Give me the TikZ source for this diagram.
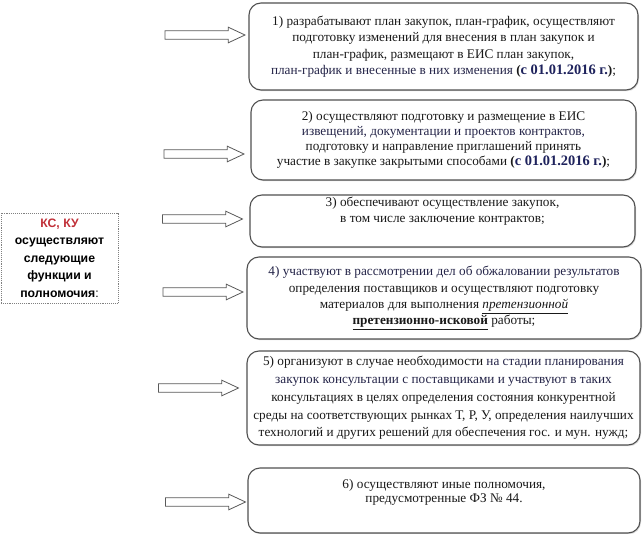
\documentclass[tikz,border=0pt]{standalone}
\usepackage{fontspec}
\setmainfont{Liberation Serif}
\setsansfont{Liberation Sans}
\usetikzlibrary{shapes.arrows,positioning,shadows}

\definecolor{ksred}{RGB}{192,48,56}
\definecolor{navytxt}{RGB}{30,34,92}
\definecolor{darknavy}{RGB}{36,36,72}
\definecolor{framegray}{RGB}{80,80,80}

\newcommand{\srok}{\textbf{(\textcolor{navytxt}{\fontsize{14.5}{16}\selectfont с 01.01.2016 г.})}}

\tikzset{
  card/.style={draw=framegray, line width=1.1bp, rounded corners=12bp, fill=white,
    drop shadow={shadow xshift=1bp, shadow yshift=-1.2bp, opacity=.3}},
  cardtext/.style={align=center, inner sep=0pt, text=black!90, font=\fontsize{13.3}{16.5}\selectfont},
  blockarrow/.style={single arrow, draw=black!65, fill=white, line width=0.8bp,
    minimum height=80bp, inner sep=3.8bp, single arrow head extend=3.6bp, single arrow tip angle=50},
  ksbox/.style={draw=black!50, densely dotted, line width=0.9bp, minimum width=117bp,
    minimum height=90bp, align=center, inner sep=0pt, font=\sffamily\bfseries\fontsize{12.3}{17.5}\selectfont}
}

\begin{document}
\begin{tikzpicture}[x=1bp,y=1bp]
  \useasboundingbox (0,0) rectangle (643,-534);

  % who
  \node[ksbox] (ks) at (59.5,-258) {\textcolor{ksred}{КС, КУ}\\осуществляют\\следующие\\функции и\\полномочия\mdseries:};

  % frames
  \node[card, minimum width=389bp, minimum height=87bp] (b1) at (443.5,-46.5) {};
  \node[card, minimum width=385bp, minimum height=80bp] (b2) at (443.5,-140) {};
  \node[card, minimum width=385bp, minimum height=52bp] (b3) at (442.5,-221) {};
  \node[card, minimum width=394bp, minimum height=82bp] (b4) at (444,-298) {};
  \node[card, minimum width=393bp, minimum height=94bp] (b5) at (443.5,-398) {};
  \node[card, minimum width=392bp, minimum height=65bp] (b6) at (444,-500.5) {};

  % arrows
  \node[blockarrow] (a1) at (200.5,-35) {};
  \node[blockarrow] (a2) at (199.5,-154) {};
  \node[blockarrow] (a3) at (198,-219) {};
  \node[blockarrow] (a4) at (198.5,-292) {};
  \node[blockarrow] (a5) at (194,-388) {};
  \node[blockarrow] (a6) at (201,-502) {};

  % texts
  \node[cardtext] (t1) at (b1.center) {1) разрабатывают план закупок, план-график, осуществляют\\
    подготовку изменений для внесения в план закупок и\\
    план-график, размещают в ЕИС план закупок,\\
    \textcolor{darknavy}{план-график и внесенные в них изменения} \srok;};
  \node[cardtext, font=\fontsize{13.3}{15}\selectfont] (t2) at (b2.center) {2) осуществляют подготовку и размещение в ЕИС\\
    \textcolor{darknavy}{извещений, документации и проектов контрактов,}\\
    подготовку и направление приглашений принять\\
    участие в закупке закрытыми способами \srok;};
  \node[cardtext, below=2bp of b3.north] (t3) {3) обеспечивают осуществление закупок,\\
    в том числе заключение контрактов;};
  \node[cardtext] (t4) at (b4.center) {\textcolor{darknavy}{4) участвуют в рассмотрении дел об обжаловании результатов}\\
    определения поставщиков и осуществляют подготовку\\
    материалов для выполнения \underline{\textit{претензионной}}\\
    \underline{\textbf{претензионно-исковой}} работы;};
  \node[cardtext, font=\fontsize{13.3}{17.8}\selectfont] (t5) at (b5.center) {5) организуют в случае необходимости \textcolor{darknavy}{на стадии планирования}\\
    \textcolor{darknavy}{закупок консультации с поставщиками и участвуют в таких}\\
    консультациях в целях определения состояния конкурентной\\
    среды на соответствующих рынках Т, Р, У, определения наилучших\\
    технологий и других решений для обеспечения гос. и мун. нужд;};
  \node[cardtext, font=\fontsize{13.3}{14}\selectfont, below=12bp of b6.north] (t6) {6) осуществляют иные полномочия,\\
    предусмотренные ФЗ № 44.};
\end{tikzpicture}
\end{document}
